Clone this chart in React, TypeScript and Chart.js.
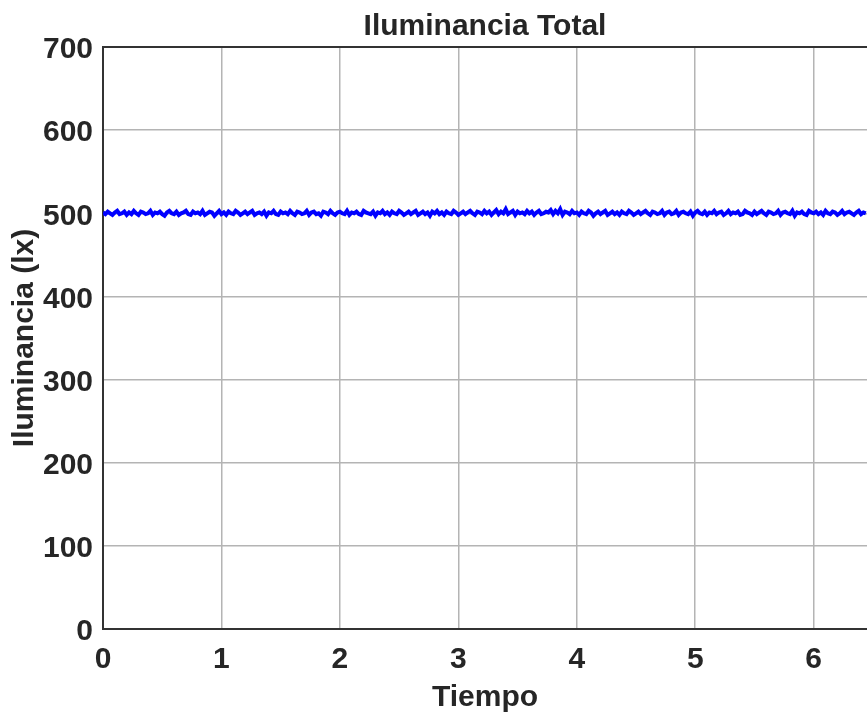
import React, { useEffect, useRef } from "react";
import { Chart, registerables } from "chart.js";

Chart.register(...registerables);

const chartTitle = "Iluminancia Total";
const xAxisTitle = "Tiempo";
const yAxisTitle = "Iluminancia (lx)";
const sampleStep = 0.02;
const xMin = 0;
const xMax = 6.45;
const yMin = 0;
const yMax = 700;
const yStep = 100;
const xStep = 1;

const illuminance = [
  501, 499, 502, 500, 498, 501, 503, 499, 500, 502, 498, 501, 499, 503, 500, 498, 502, 501, 499, 500,
  503, 498, 501, 500, 502, 499, 497, 501, 503, 500, 499, 502, 498, 500, 501, 503, 499, 498, 502, 500,
  501, 499, 503, 498, 500, 502, 501, 497, 500, 503, 499, 501, 498, 502, 500, 499, 503, 501, 498, 500,
  502, 499, 501, 503, 498, 500, 501, 499, 502, 497, 501, 500, 503, 499, 498, 502, 500, 501, 499, 503,
  500, 498, 502, 501, 499, 500, 503, 498, 501, 502, 499, 500, 497, 502, 501, 499, 503, 500, 498, 501,
  502, 500, 499, 503, 498, 501, 500, 502, 499, 498, 503, 501, 500, 499, 502, 497, 501, 500, 503, 499,
  501, 498, 502, 500, 499, 503, 501, 498, 500, 502, 499, 501, 503, 498, 500, 502, 499, 501, 497, 502,
  500, 503, 499, 501, 498, 502, 500, 499, 503, 501, 498, 500, 502, 499, 501, 503, 500, 498, 502, 501,
  499, 503, 500, 502, 498, 501, 504, 499, 502, 500, 505, 499, 501, 503, 498, 502, 500, 501, 499, 503,
  500, 502, 498, 501, 503, 499, 500, 502, 501, 504, 499, 503, 500, 505, 498, 502, 501, 499, 503, 500,
  501, 498, 502, 500, 499, 503, 501, 497, 500, 502, 499, 501, 503, 498, 500, 502, 499, 501, 498, 502,
  500, 499, 503, 501, 498, 500, 502, 499, 501, 503, 500, 498, 502, 501, 499, 500, 503, 498, 501, 502,
  499, 500, 503, 498, 501, 502, 500, 499, 502, 497, 501, 503, 500, 499, 502, 498, 501, 500, 503, 499,
  501, 502, 498, 500, 503, 499, 501, 500, 502, 498, 499, 503, 501, 500, 498, 502, 499, 501, 503, 500,
  498, 502, 501, 499, 500, 503, 498, 501, 502, 500, 499, 503, 497, 501, 500, 502, 499, 498, 503, 501,
  500, 502, 499, 501, 498, 503, 500, 499, 502, 501, 498, 500, 503, 499, 501, 502, 500, 498, 501, 503,
  499, 501, 500,
];

const FONT = "'Liberation Sans', Arial, sans-serif";
const TEXT = "#262626";
const GRID = "#b4b4b4";
const AXIS = "#333333";
const SIZE = 30;

export default function App() {
  const ref = useRef<HTMLCanvasElement | null>(null);

  useEffect(() => {
    if (!ref.current) return;
    const points = illuminance.map((v, i) => ({ x: i * sampleStep, y: v }));
    const chart = new Chart(ref.current, {
      type: "line",
      data: {
        datasets: [
          {
            data: points,
            borderColor: "#0000ff",
            borderWidth: 4,
            pointRadius: 0,
            tension: 0,
            fill: false,
          },
        ],
      },
      options: {
        responsive: false,
        animation: false,
        layout: { padding: { left: 0, right: 0, top: 0, bottom: 0 } },
        plugins: {
          legend: { display: false },
          tooltip: { enabled: false },
          title: { display: false },
        },
        scales: {
          x: {
            type: "linear",
            min: xMin,
            max: xMax,
            ticks: {
              stepSize: xStep,
              includeBounds: false,
              color: TEXT,
              font: { family: FONT, size: SIZE, weight: "bold" },
              padding: 13,
              maxRotation: 0,
            },
            grid: { color: GRID, lineWidth: 1.5, drawTicks: false },
            border: { color: AXIS, width: 2 },
            title: {
              display: true,
              text: xAxisTitle,
              color: TEXT,
              font: { family: FONT, size: SIZE, weight: "bold" },
              padding: { top: 0, bottom: 2 },
            },
            afterFit(scale: any) {
              scale.height = 89;
            },
          },
          x2: {
            type: "linear",
            position: "top",
            min: 0,
            max: 1,
            ticks: { display: false },
            grid: { display: false, drawTicks: false },
            border: { color: AXIS, width: 2 },
            title: {
              display: true,
              text: chartTitle,
              color: TEXT,
              font: { family: FONT, size: SIZE, weight: "bold" },
              padding: { top: 9, bottom: 0 },
            },
            afterFit(scale: any) {
              scale.height = 47;
            },
          },
          y: {
            type: "linear",
            min: yMin,
            max: yMax,
            ticks: {
              stepSize: yStep,
              color: TEXT,
              font: { family: FONT, size: SIZE, weight: "bold" },
              padding: 10,
              labelOffset: 3,
            },
            grid: { color: GRID, lineWidth: 1.5, drawTicks: false },
            border: { color: AXIS, width: 2 },
            title: {
              display: true,
              text: yAxisTitle,
              color: TEXT,
              font: { family: FONT, size: SIZE, weight: "bold" },
              padding: { top: 7, bottom: 0 },
            },
            afterFit(scale: any) {
              scale.width = 103;
            },
          },
        },
      },
    });
    return () => chart.destroy();
  }, []);

  return (
    <div style={{ position: "absolute", left: 0, top: 0, width: 867, height: 718, background: "#fff" }}>
      <canvas ref={ref} width={867} height={718} />
    </div>
  );
}
